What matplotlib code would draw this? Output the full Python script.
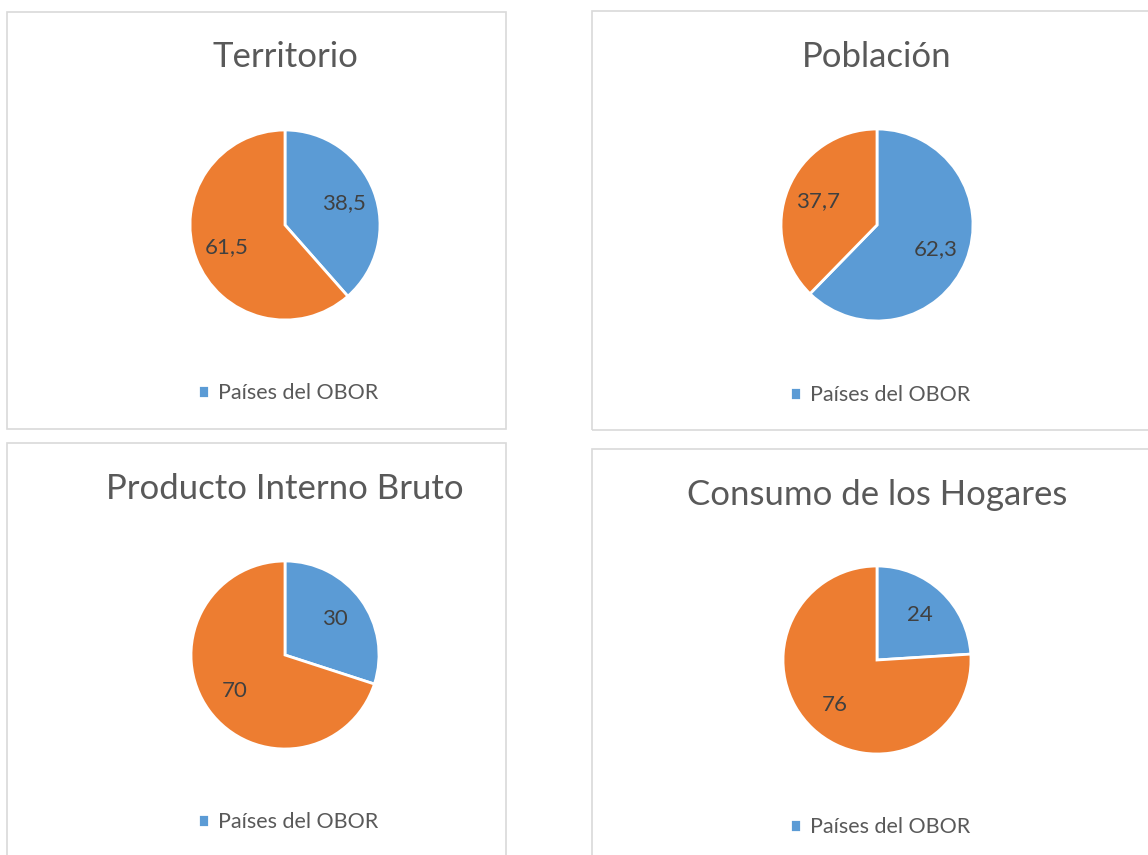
import matplotlib.pyplot as plt
from matplotlib.patches import Rectangle

W, H = 1148, 855

titles = ["Territorio", "Población", "Producto Interno Bruto", "Consumo de los Hogares"]
obor = [38.5, 62.3, 30, 24]
resto = [61.5, 37.7, 70, 76]
legend_label = "Países del OBOR"

blue = "#5B9BD5"
orange = "#ED7D31"
font = ["Lato", "DejaVu Sans"]

# panel layout in pixels: border box (x0, y0, x1, y1), pie centre, radius, title y, legend y
panels = [
    dict(box=(7, 12, 506, 429), c=(285, 225), r=95, ty=57, ly=393),
    dict(box=(592, 11, 1160, 430), c=(877, 225), r=96, ty=57, ly=395),
    dict(box=(7, 443, 506, 870), c=(285, 655), r=94, ty=489, ly=822),
    dict(box=(592, 449, 1160, 870), c=(877, 660), r=94, ty=495, ly=827),
]


def fx(x):
    return x / W


def fy(y):
    return 1 - y / H


def fmt(v):
    s = ("%.1f" % v).rstrip("0").rstrip(".")
    return s.replace(".", ",")


fig = plt.figure(figsize=(W / 100, H / 100), dpi=100)
fig.patch.set_facecolor("white")

for i, p in enumerate(panels):
    x0, y0, x1, y1 = p["box"]
    fig.patches.append(Rectangle((fx(x0), fy(y1)), fx(x1 - x0), (y1 - y0) / H,
                                 transform=fig.transFigure, fill=False,
                                 edgecolor="#d9d9d9", linewidth=1.2))

    cx, cy = p["c"]
    r = p["r"]
    ax = fig.add_axes([fx(cx - r), fy(cy + r), 2 * r / W, 2 * r / H])
    vals = [obor[i], resto[i]]
    wedges, texts = ax.pie(vals, labels=[fmt(v) for v in vals], colors=[blue, orange],
                           startangle=90, counterclock=False, radius=1,
                           labeldistance=0.66,
                           wedgeprops=dict(edgecolor="white", linewidth=2),
                           textprops=dict(fontsize=16, color="#404040", family=font))
    for t in texts:
        t.set_horizontalalignment("center")
        t.set_verticalalignment("center")
    ax.set_xlim(-1.0, 1.0)
    ax.set_ylim(-1.0, 1.0)
    ax.set_aspect("equal")

    fig.text(fx(cx), fy(p["ty"]), titles[i], ha="center", va="center",
             fontsize=25, color="#595959", family=font)

    ax.legend(handles=[wedges[0]], labels=[legend_label], loc="center",
              bbox_to_anchor=(fx(cx + 3), fy(p["ly"])), bbox_transform=fig.transFigure,
              frameon=False, handlelength=0.55, handleheight=0.55, handletextpad=0.4,
              prop=dict(size=15.5, family=font), labelcolor="#595959")

fig.savefig("out.png", dpi=100, facecolor="white")
